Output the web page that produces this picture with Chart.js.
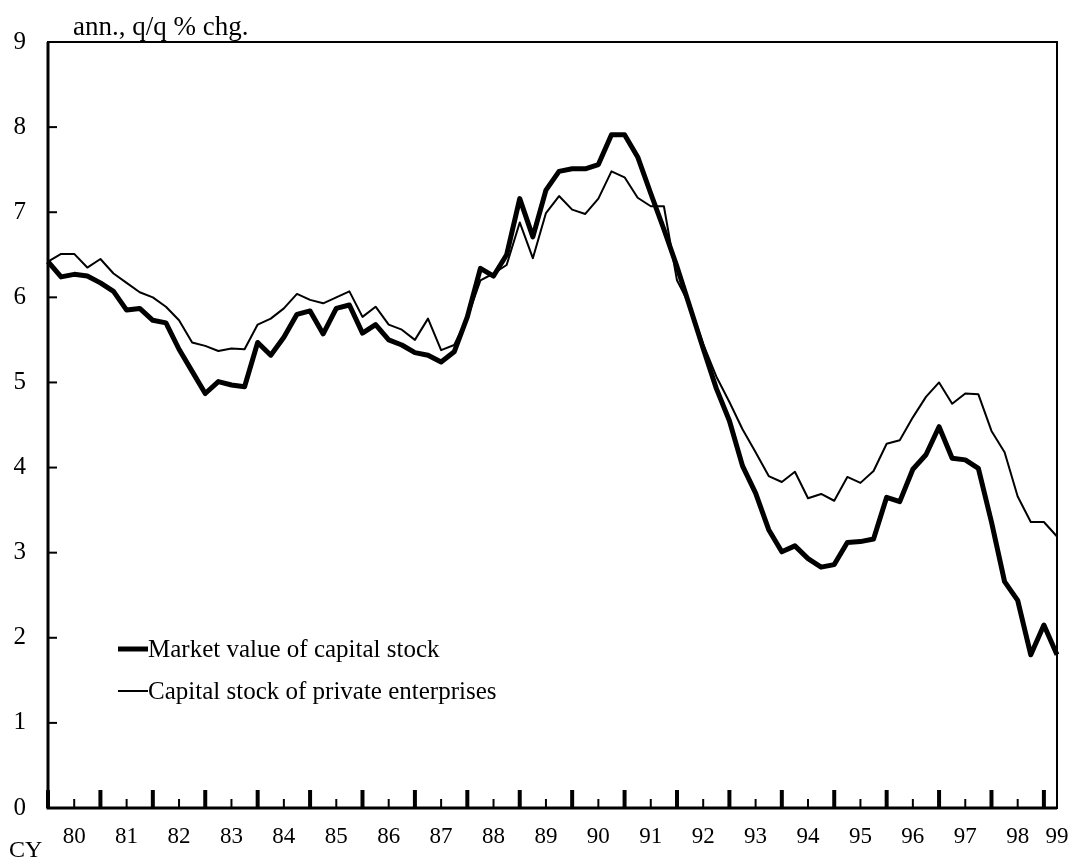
<!DOCTYPE html>
<html>
<head>
<meta charset="utf-8">
<script src="https://cdn.jsdelivr.net/npm/chart.js@4.4.1/dist/chart.umd.min.js"></script>
<style>
  html, body { margin: 0; padding: 0; background: #fff; }
  #wrap { width: 1078px; height: 861px; }
</style>
</head>
<body>
<div id="wrap"><canvas id="chart" width="1078" height="861"></canvas></div>
<script>
  // quarterly, CY1980 Q1 .. CY1999 Q2
  const years = ['80','81','82','83','84','85','86','87','88','89','90','91','92','93','94','95','96','97','98','99'];
  const quarters = [];
  years.forEach(y => ['Q1','Q2','Q3','Q4'].forEach(q => quarters.push(y + q)));
  quarters.length = 78;

  const marketValue = [
    6.42, 6.24, 6.27, 6.25, 6.17, 6.07, 5.85, 5.87, 5.73, 5.70,
    5.39, 5.13, 4.87, 5.01, 4.97, 4.95, 5.47, 5.32, 5.53, 5.80,
    5.84, 5.57, 5.87, 5.91, 5.58, 5.68, 5.50, 5.44, 5.35, 5.32,
    5.24, 5.36, 5.77, 6.34, 6.25, 6.50, 7.16, 6.71, 7.26, 7.48,
    7.51, 7.51, 7.56, 7.91, 7.91, 7.65, 7.22, 6.80, 6.36, 5.88,
    5.40, 4.93, 4.55, 4.02, 3.70, 3.27, 3.01, 3.08, 2.93, 2.83,
    2.86, 3.12, 3.13, 3.16, 3.65, 3.60, 3.98, 4.15, 4.48, 4.11,
    4.09, 3.99, 3.36, 2.66, 2.44, 1.80, 2.15, 1.80
  ];
  const capitalStock = [
    6.42, 6.51, 6.51, 6.35, 6.45, 6.28, 6.17, 6.06, 6.00, 5.89,
    5.73, 5.47, 5.43, 5.37, 5.40, 5.39, 5.68, 5.75, 5.87, 6.04,
    5.97, 5.93, 6.00, 6.07, 5.77, 5.89, 5.68, 5.62, 5.50, 5.75,
    5.38, 5.44, 5.76, 6.20, 6.28, 6.38, 6.88, 6.46, 6.99, 7.19,
    7.03, 6.98, 7.16, 7.48, 7.41, 7.17, 7.07, 7.07, 6.20, 5.90,
    5.45, 5.07, 4.77, 4.45, 4.18, 3.90, 3.83, 3.95, 3.64, 3.69,
    3.61, 3.89, 3.82, 3.96, 4.28, 4.32, 4.59, 4.83, 5.00, 4.75,
    4.87, 4.86, 4.43, 4.18, 3.66, 3.36, 3.36, 3.19
  ];
  const seriesNames = ['Market value of capital stock', 'Capital stock of private enterprises'];
  const yTicks = [0, 1, 2, 3, 4, 5, 6, 7, 8, 9];
  const unitLabel = 'ann., q/q % chg.';

  const FONT = "'Liberation Serif', 'Times New Roman', serif";

  // frame, inward ticks, title, CY and legend
  const decor = {
    id: 'decor',
    afterDatasetsDraw(chart) {
      const ctx = chart.ctx;
      const a = chart.chartArea;
      const xs = chart.scales.x, ys = chart.scales.y;
      ctx.save();
      ctx.strokeStyle = '#000';
      ctx.lineWidth = 2;
      ctx.strokeRect(a.left, a.top, a.right - a.left, a.bottom - a.top);
      ctx.lineWidth = 3;
      ctx.beginPath();
      ctx.moveTo(a.left, a.top); ctx.lineTo(a.left, a.bottom); ctx.lineTo(a.right, a.bottom);
      ctx.stroke();

      quarters.forEach((q, i) => {
        const px = xs.getPixelForValue(i);
        if (i % 4 === 0) {
          ctx.lineWidth = 4;
          ctx.beginPath(); ctx.moveTo(px, a.bottom); ctx.lineTo(px, a.bottom - 18); ctx.stroke();
        } else if (i % 4 === 2) {
          ctx.lineWidth = 2;
          ctx.beginPath(); ctx.moveTo(px, a.bottom); ctx.lineTo(px, a.bottom - 9); ctx.stroke();
        }
      });
      ctx.lineWidth = 2;
      yTicks.forEach(v => {
        const py = ys.getPixelForValue(v);
        ctx.beginPath(); ctx.moveTo(a.left, py); ctx.lineTo(a.left + 9, py); ctx.stroke();
      });

      ctx.fillStyle = '#000';
      ctx.textBaseline = 'alphabetic';
      ctx.textAlign = 'left';
      ctx.font = '27px ' + FONT;
      ctx.fillText(unitLabel, 73, 35);
      ctx.font = '24px ' + FONT;
      ctx.fillText('CY', 9, 857);

      ctx.font = '25px ' + FONT;
      chart.data.datasets.forEach((ds, k) => {
        const ly = a.bottom - 159 + k * 42;
        ctx.lineWidth = ds.borderWidth;
        ctx.beginPath(); ctx.moveTo(a.left + 70, ly); ctx.lineTo(a.left + 100, ly); ctx.stroke();
        ctx.textBaseline = 'middle';
        ctx.fillText(ds.label, a.left + 100, ly + 1);
      });
      ctx.restore();
    }
  };

  new Chart(document.getElementById('chart'), {
    type: 'line',
    data: {
      labels: quarters,
      datasets: [
        { label: seriesNames[0], data: marketValue, borderColor: '#000', borderWidth: 5,
          pointRadius: 0, tension: 0, borderJoinStyle: 'round' },
        { label: seriesNames[1], data: capitalStock, borderColor: '#000', borderWidth: 2,
          pointRadius: 0, tension: 0, borderJoinStyle: 'round' }
      ]
    },
    options: {
      responsive: false,
      animation: false,
      layout: { padding: { top: 42, right: 21, left: 0, bottom: 0 } },
      plugins: { legend: { display: false }, tooltip: { enabled: false }, title: { display: false } },
      scales: {
        x: {
          type: 'category',
          offset: false,
          grid: { display: false, drawTicks: false },
          border: { display: false },
          afterFit: s => { s.height = 53; s.paddingLeft = 0; s.paddingRight = 0; },
          ticks: {
            autoSkip: false, maxRotation: 0, minRotation: 0, padding: 15,
            color: '#000', font: { family: FONT, size: 23 },
            callback: (v, i) => (i % 4 === 2 || i === quarters.length - 1) ? quarters[i].slice(0, 2) : ''
          }
        },
        y: {
          min: 0, max: 9,
          grid: { display: false, drawTicks: false },
          border: { display: false },
          afterFit: s => { s.width = 48; s.paddingTop = 0; s.paddingBottom = 0; },
          afterBuildTicks: s => { s.ticks = yTicks.map(v => ({ value: v })); },
          ticks: { padding: 22, color: '#000', font: { family: FONT, size: 25 } }
        }
      }
    },
    plugins: [decor]
  });
</script>
</body>
</html>
